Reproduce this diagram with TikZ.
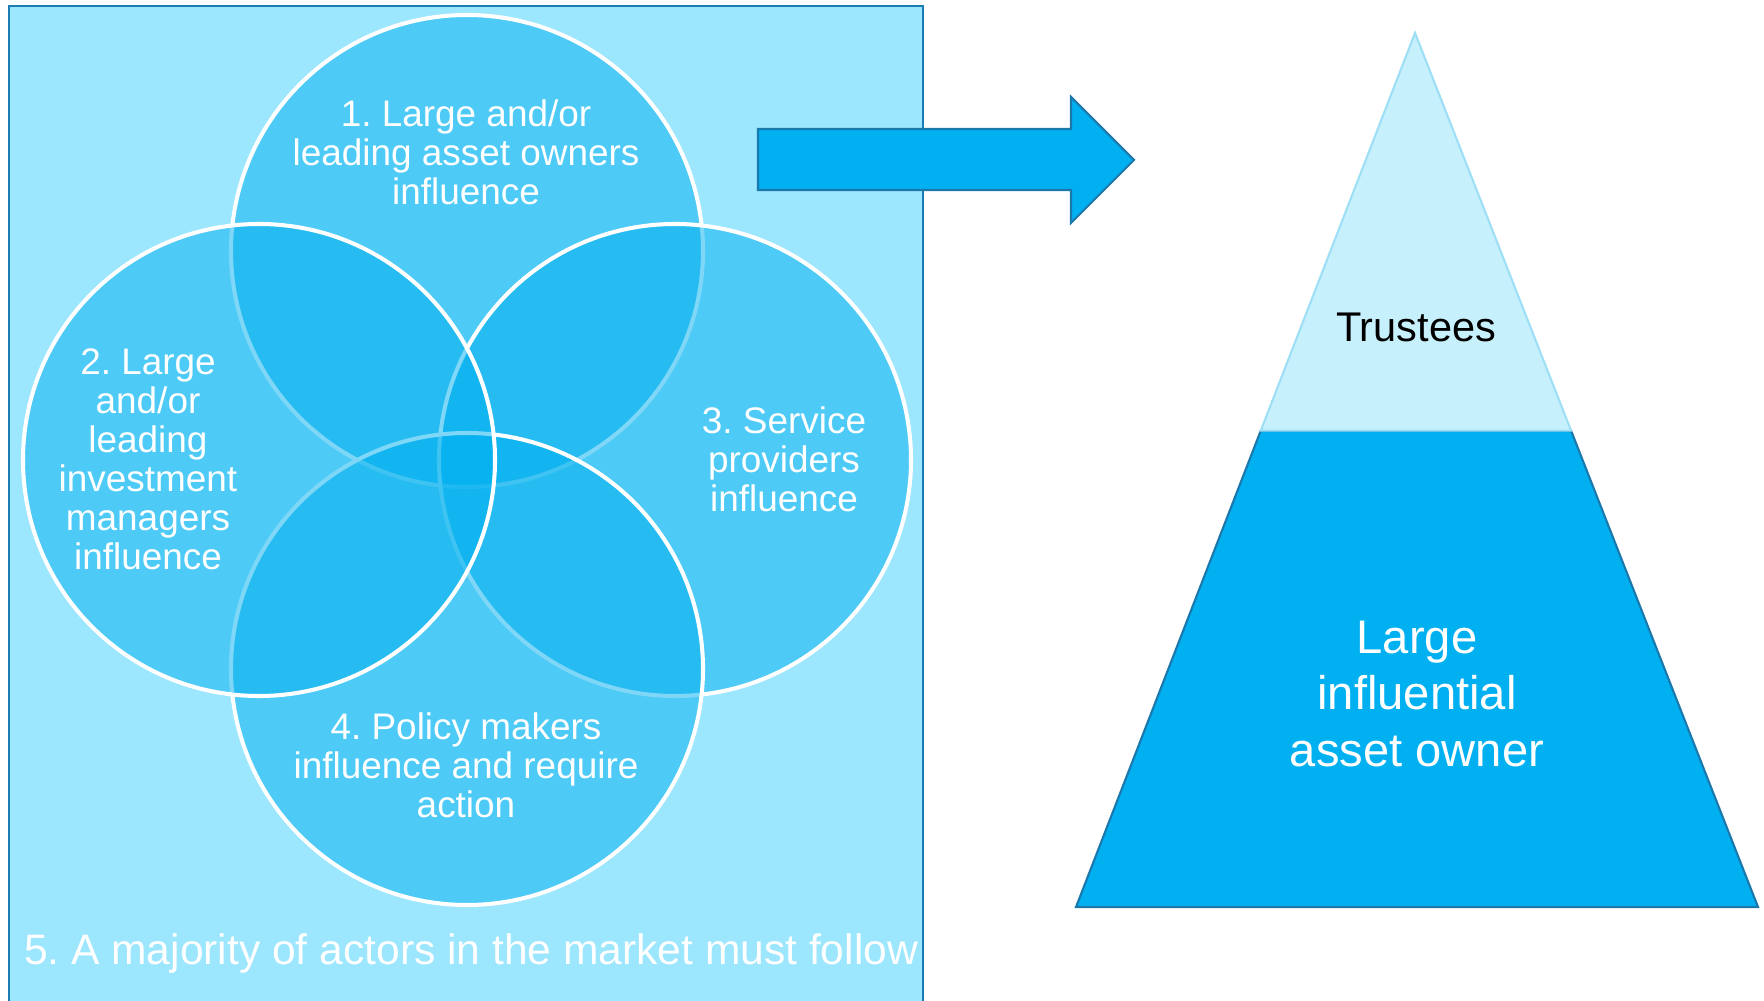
\documentclass[tikz,border=0pt]{standalone}
\usepackage{fontspec}
\setmainfont{Liberation Sans}
\usepackage{tikz}
\usetikzlibrary{calc}
\definecolor{panelfill}{HTML}{9CE6FE}
\definecolor{panelline}{HTML}{1B7DB4}
\definecolor{capblue}{HTML}{00B0F0}
\definecolor{capline}{HTML}{1A78AC}
\definecolor{tipfill}{HTML}{C7F0FD}
\definecolor{tipline}{HTML}{9EDFF6}
\frenchspacing

\begin{document}
\begin{tikzpicture}[x=0.01cm, y=-0.01cm,
    venn/.style={fill=capblue, fill opacity=0.5, draw=white, line width=1.15pt},
    circtext/.style={text=white, align=center, font=\fontsize{10.5}{11.1}\selectfont},
    block/.style={fill=capblue, draw=capline, line width=0.6pt}]
      \useasboundingbox (0,0) rectangle (1764,1001);
      % market panel
      \draw[draw=panelline, fill=panelfill, line width=0.6pt] (9,6) rectangle (923,1012);
      % four circles of influence
      \coordinate (c1) at (467,251);
      \coordinate (c2) at (259,460);
      \coordinate (c3) at (675,460);
      \coordinate (c4) at (467,669);
      \foreach \c in {c1,c3,c4,c2}
        \draw[venn] (\c) circle (236);
      \node[circtext] (owners) at (466,152) {1. Large and/or\\leading asset owners\\influence};
      \node[circtext] (managers) at (148,459) {2. Large\\and/or\\leading\\investment\\managers\\influence};
      \node[circtext] (providers) at (784,459) {3. Service\\providers\\influence};
      \node[circtext] (policy) at (466,765) {4. Policy makers\\influence and require\\action};
      \node[text=white, font=\fontsize{12.1}{14}\selectfont] (market) at (471,953) {5. A majority of actors in the market must follow};
      % arrow
      \draw[block] (758,129) -- (1071,129) -- (1071,97) -- (1134,160) -- (1071,223) -- (1071,190) -- (758,190) -- cycle;
      % pyramid
      \coordinate (apex) at (1415,33);
      \coordinate (baseL) at (1076,907);
      \coordinate (baseR) at (1758,907);
      \coordinate (cutL) at ($(apex)!0.455!(baseL)$);
      \coordinate (cutR) at ($(apex)!0.455!(baseR)$);
      \draw[block] (cutL) -- (baseL) -- (baseR) -- (cutR) -- cycle;
      \draw[fill=tipfill, draw=tipline, line width=0.6pt] (apex) -- (cutL) -- (cutR) -- cycle;
      \node[font=\fontsize{11.8}{14}\selectfont] (trustees) at (1416,327) {Trustees};
      \node[text=white, align=center, font=\fontsize{13.4}{16.2}\selectfont] (owner) at (1417,694) {Large\\influential\\asset owner};
    \end{tikzpicture}
\end{document}
